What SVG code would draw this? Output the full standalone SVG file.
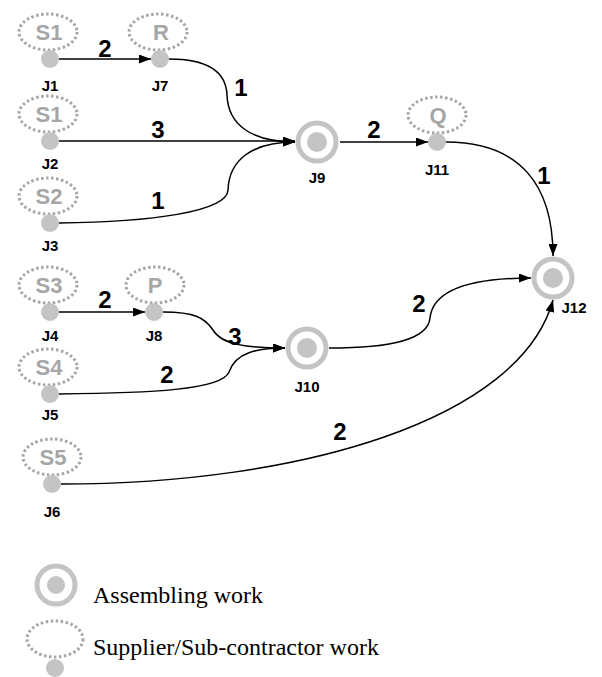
<svg xmlns="http://www.w3.org/2000/svg" width="602" height="677" viewBox="0 0 602 677">
<style>
.sup{fill:none;stroke:#a6a6a6;stroke-width:3;stroke-dasharray:2.5 2.5}
.st{font-family:"Liberation Sans",Arial,sans-serif;font-weight:bold;font-size:22px;fill:#a6a6a6;text-anchor:middle}
.dot{fill:#c4c4c4}
.ring{fill:none;stroke:#c4c4c4;stroke-width:5}
.jl{font-family:"Liberation Sans",Arial,sans-serif;font-weight:bold;font-size:15px;fill:#000;text-anchor:middle}
.num{font-family:"Liberation Sans",Arial,sans-serif;font-weight:bold;font-size:24px;fill:#000;text-anchor:middle}
.edge{fill:none;stroke:#000;stroke-width:1.5}
.leg{font-family:"Liberation Serif","Times New Roman",serif;font-size:24px;fill:#000}
</style>
<defs>
<marker id="arr" viewBox="0 0 12 9" refX="12" refY="4.5" markerWidth="12" markerHeight="9" orient="auto" markerUnits="userSpaceOnUse">
<path d="M0,0 L12,4.5 L0,9 z" fill="#000"/>
</marker>
</defs>
<rect width="602" height="677" fill="#fff"/>

<g id="connectors">
<path class="edge" d="M59,59 L151,59" marker-end="url(#arr)"/>
<path class="edge" d="M169,59 C205,59 226,70 227,95 C228,125 252,142 295,142" marker-end="url(#arr)"/>
<path class="edge" d="M59,141 L295,141" marker-end="url(#arr)"/>
<path class="edge" d="M59,223 C150,222 227,212 228,190 C229,160 252,142 295,142" marker-end="url(#arr)"/>
<path class="edge" d="M340,142 L428,142" marker-end="url(#arr)"/>
<path class="edge" d="M446,142 C520,142 553,185 553,256" marker-end="url(#arr)"/>
<path class="edge" d="M59,312 L145,312" marker-end="url(#arr)"/>
<path class="edge" d="M163,312 C195,312 205,318 213,330 C222,345 248,348 285,348" marker-end="url(#arr)"/>
<path class="edge" d="M59,394 C150,393 222,390 229,372 C236,352 258,348 285,348" marker-end="url(#arr)"/>
<path class="edge" d="M329,348 C390,348 428,340 430,318 C433,290 470,278 531,278" marker-end="url(#arr)"/>
<path class="edge" d="M61,484 C300,484 520,420 553,300" marker-end="url(#arr)"/>
</g>

<g id="edge-labels">
<text class="num" x="105" y="57">2</text>
<text class="num" x="241" y="96">1</text>
<text class="num" x="158" y="138">3</text>
<text class="num" x="158" y="209">1</text>
<text class="num" x="374" y="138">2</text>
<text class="num" x="544" y="184">1</text>
<text class="num" x="105" y="308">2</text>
<text class="num" x="235" y="345">3</text>
<text class="num" x="167" y="383">2</text>
<text class="num" x="419" y="312">2</text>
<text class="num" x="340" y="440">2</text>
</g>

<g id="J1"><ellipse class="sup" cx="48" cy="32" rx="29" ry="18"/><text class="st" x="49" y="40">S1</text><circle class="dot" cx="50" cy="59" r="9"/><text class="jl" x="50" y="91">J1</text></g>
<g id="J7"><ellipse class="sup" cx="158" cy="32" rx="29" ry="18"/><text class="st" x="161" y="40">R</text><circle class="dot" cx="160" cy="59" r="9"/><text class="jl" x="160" y="91">J7</text></g>
<g id="J2"><ellipse class="sup" cx="48" cy="114" rx="29" ry="18"/><text class="st" x="49" y="122">S1</text><circle class="dot" cx="50" cy="141" r="9"/><text class="jl" x="50" y="169">J2</text></g>
<g id="J3"><ellipse class="sup" cx="48" cy="196" rx="29" ry="18"/><text class="st" x="49" y="204">S2</text><circle class="dot" cx="50" cy="223" r="9"/><text class="jl" x="50" y="251">J3</text></g>
<g id="J9"><circle class="ring" cx="317" cy="142" r="19"/><circle class="dot" cx="317" cy="142" r="10"/><text class="jl" x="317" y="183">J9</text></g>
<g id="J11"><ellipse class="sup" cx="437" cy="115" rx="29" ry="18"/><text class="st" x="438" y="123">Q</text><circle class="dot" cx="437" cy="142" r="9"/><text class="jl" x="437" y="175">J11</text></g>
<g id="J4"><ellipse class="sup" cx="48" cy="285" rx="29" ry="18"/><text class="st" x="49" y="293">S3</text><circle class="dot" cx="50" cy="312" r="9"/><text class="jl" x="50" y="341">J4</text></g>
<g id="J8"><ellipse class="sup" cx="155" cy="285" rx="29" ry="18"/><text class="st" x="155" y="293">P</text><circle class="dot" cx="154" cy="312" r="9"/><text class="jl" x="154" y="341">J8</text></g>
<g id="J5"><ellipse class="sup" cx="48" cy="367" rx="29" ry="18"/><text class="st" x="49" y="375">S4</text><circle class="dot" cx="50" cy="394" r="9"/><text class="jl" x="50" y="420">J5</text></g>
<g id="J10"><circle class="ring" cx="307" cy="348" r="19"/><circle class="dot" cx="307" cy="348" r="10"/><text class="jl" x="307" y="392">J10</text></g>
<g id="J6"><ellipse class="sup" cx="52" cy="457" rx="29" ry="18"/><text class="st" x="53" y="465">S5</text><circle class="dot" cx="52" cy="484" r="9"/><text class="jl" x="52" y="517">J6</text></g>
<g id="J12"><circle class="ring" cx="553" cy="278" r="19"/><circle class="dot" cx="553" cy="278" r="10"/><text class="jl" x="574" y="313">J12</text></g>

<g id="legend">
<circle class="ring" cx="56" cy="585" r="19"/><circle class="dot" cx="56" cy="585" r="9"/>
<text class="leg" x="93" y="603">Assembling work</text>
<ellipse class="sup" cx="55" cy="639" rx="28" ry="18"/><circle class="dot" cx="55" cy="668" r="9"/>
<text class="leg" x="93" y="655">Supplier/Sub-contractor work</text>
</g>
</svg>
